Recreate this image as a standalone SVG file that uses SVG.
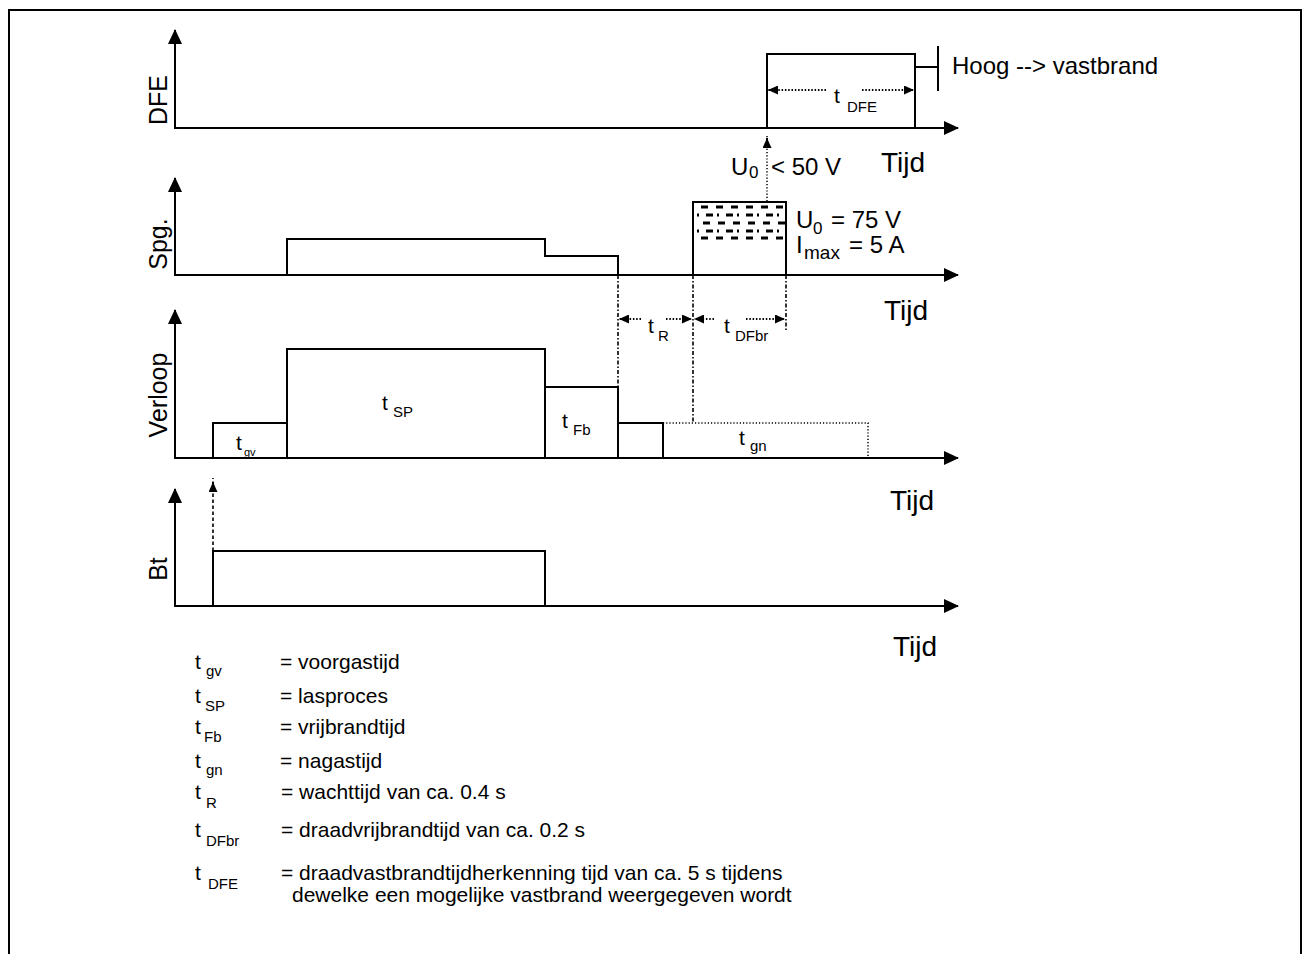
<svg xmlns="http://www.w3.org/2000/svg" width="1306" height="954" viewBox="0 0 1306 954">
<style>
.ln{stroke:#000;stroke-width:2;fill:none}
.ax{stroke:#000;stroke-width:2;fill:none;marker-start:url(#ah);marker-end:url(#ah)}
.dd{stroke:#000;stroke-width:1.6;fill:none;stroke-dasharray:4 2 1.5 2}
.dot{stroke:#000;stroke-width:2;fill:none;stroke-dasharray:1.5 1.8}
.fdot{stroke:#000;stroke-width:1.5;fill:none;stroke-dasharray:1.2 2}
.dash{stroke:#000;stroke-width:1.6;fill:none;stroke-dasharray:3.5 2.5}
.h1{stroke:#000;stroke-width:3;stroke-dasharray:7 8}
.h2{stroke:#000;stroke-width:3;stroke-dasharray:2 7 7 4}
text{font-family:"Liberation Sans",Arial,sans-serif;fill:#000}
.ylab{font-size:25px}
.tijd{font-size:28px}
.big{font-size:24px}
.bsub{font-size:17px}
.t{font-size:21px}
.sub{font-size:15px}
.leg{font-size:21px}
</style>
<defs>
<marker id="ah" markerUnits="userSpaceOnUse" markerWidth="15" markerHeight="14" refX="14" refY="7" orient="auto-start-reverse"><path d="M0,0L15,7L0,14z" fill="#000"/></marker>
<marker id="sa" markerUnits="userSpaceOnUse" markerWidth="10" markerHeight="9" refX="10" refY="4.5" orient="auto"><path d="M0,0L10,4.5L0,9z" fill="#000"/></marker>
</defs>
<rect x="9" y="10" width="1292" height="960" fill="#fff" stroke="#000" stroke-width="2"/>

<g id="panel-dfe">
<path class="ax" d="M175,30V128H958"/>
<text class="ylab" transform="translate(167,100) rotate(-90)" text-anchor="middle">DFE</text>
<polyline class="ln" points="767,128 767,54 915,54 915,128"/>
<line class="ln" x1="915" y1="67" x2="938" y2="67"/>
<line class="ln" x1="938" y1="46" x2="938" y2="91"/>
<text class="big" x="952" y="74">Hoog --&gt; vastbrand</text>
<text class="tijd" x="881" y="172">Tijd</text>
</g>

<g id="panel-spg">
<path class="ax" d="M175,178V275H958"/>
<text class="ylab" transform="translate(167,244) rotate(-90)" text-anchor="middle">Spg.</text>
<polyline class="ln" points="287,275 287,239 545,239 545,256 618,256 618,275"/>
<polyline class="ln" points="693,275 693,202 786,202 786,275"/>
<g id="hatch">
<line class="h1" x1="701" y1="207" x2="786" y2="207"/>
<line class="h2" x1="697" y1="215" x2="786" y2="215"/>
<line class="h1" x1="703" y1="223" x2="786" y2="223"/>
<line class="h2" x1="697" y1="231" x2="786" y2="231"/>
<line class="h1" x1="701" y1="238" x2="786" y2="238"/>
</g>
<text class="big" x="796" y="228">U</text><text class="bsub" x="813" y="234">0</text><text class="big" x="831" y="228">= 75 V</text>
<text class="big" x="796" y="253">I</text><text x="804" y="259" font-size="19">max</text><text class="big" x="849" y="253">= 5 A</text>
<text class="big" x="731" y="175">U</text><text class="bsub" x="749" y="178">0</text><text class="big" x="771" y="175">&lt; 50 V</text>
<text class="tijd" x="884" y="320">Tijd</text>
</g>

<g id="panel-verloop">
<path class="ax" d="M175,310V458H958"/>
<text class="ylab" transform="translate(167,395) rotate(-90)" text-anchor="middle">Verloop</text>
<rect class="ln" x="213" y="423" width="74" height="35"/>
<rect class="ln" x="287" y="349" width="258" height="109"/>
<rect class="ln" x="545" y="387" width="73" height="71"/>
<rect class="ln" x="618" y="423" width="45" height="35"/>
<polyline class="fdot" points="663,423 868,423 868,458"/>
<text class="t" x="236" y="450">t</text><text x="244" y="456" font-size="11">gv</text>
<text class="t" x="382" y="410">t</text><text class="sub" x="393" y="417">SP</text>
<text class="t" x="562" y="428">t</text><text class="sub" x="573" y="435">Fb</text>
<text class="t" x="739" y="445">t</text><text class="sub" x="750" y="451">gn</text>
<text class="tijd" x="890" y="510">Tijd</text>
</g>

<g id="panel-bt">
<path class="ax" d="M175,489V606H958"/>
<text class="ylab" transform="translate(167,569) rotate(-90)" text-anchor="middle">Bt</text>
<rect class="ln" x="213" y="551" width="332" height="55"/>
<text class="tijd" x="893" y="656">Tijd</text>
</g>

<g id="connectors">
<line class="dd" x1="618" y1="275" x2="618" y2="387"/>
<line class="dd" x1="693" y1="275" x2="693" y2="423"/>
<line class="dd" x1="786" y1="275" x2="786" y2="331"/>
<line class="fdot" x1="767" y1="136" x2="767" y2="202"/>
<line class="ln" x1="767" y1="140" x2="767" y2="138" marker-end="url(#sa)"/>
<line class="dash" x1="213" y1="551" x2="213" y2="478"/>
<line class="ln" x1="213" y1="484" x2="213" y2="482" marker-end="url(#sa)"/>
<line class="dot" x1="826" y1="90" x2="768" y2="90" marker-end="url(#sa)"/>
<line class="dot" x1="862" y1="90" x2="914" y2="90" marker-end="url(#sa)"/>
<text class="t" x="834" y="103">t</text><text class="sub" x="847" y="112">DFE</text>
<line class="dot" x1="641" y1="319" x2="619" y2="319" marker-end="url(#sa)"/>
<line class="dot" x1="666" y1="319" x2="692" y2="319" marker-end="url(#sa)"/>
<text class="t" x="648" y="333">t</text><text class="sub" x="658" y="341">R</text>
<line class="dot" x1="714" y1="319" x2="694" y2="319" marker-end="url(#sa)"/>
<line class="dot" x1="746" y1="319" x2="785" y2="319" marker-end="url(#sa)"/>
<text class="t" x="724" y="333">t</text><text class="sub" x="735" y="341">DFbr</text>
</g>

<g id="legend">
<text class="t" x="195" y="669">t</text><text class="sub" x="206" y="676">gv</text><text class="leg" x="280" y="669">= voorgastijd</text>
<text class="t" x="195" y="703">t</text><text class="sub" x="205" y="711">SP</text><text class="leg" x="280" y="703">= lasproces</text>
<text class="t" x="195" y="734">t</text><text class="sub" x="204" y="742">Fb</text><text class="leg" x="280" y="734">= vrijbrandtijd</text>
<text class="t" x="195" y="768">t</text><text class="sub" x="206" y="775">gn</text><text class="leg" x="280" y="768">= nagastijd</text>
<text class="t" x="195" y="799">t</text><text class="sub" x="206" y="808">R</text><text class="leg" x="281" y="799">= wachttijd van ca. 0.4 s</text>
<text class="t" x="195" y="837">t</text><text class="sub" x="206" y="846">DFbr</text><text class="leg" x="281" y="837">= draadvrijbrandtijd van ca. 0.2 s</text>
<text class="t" x="195" y="880">t</text><text class="sub" x="208" y="889">DFE</text><text class="leg" x="281" y="880">= draadvastbrandtijdherkenning tijd van ca. 5 s tijdens</text>
<text class="leg" x="292" y="902">dewelke een mogelijke vastbrand weergegeven wordt</text>
</g>
</svg>
